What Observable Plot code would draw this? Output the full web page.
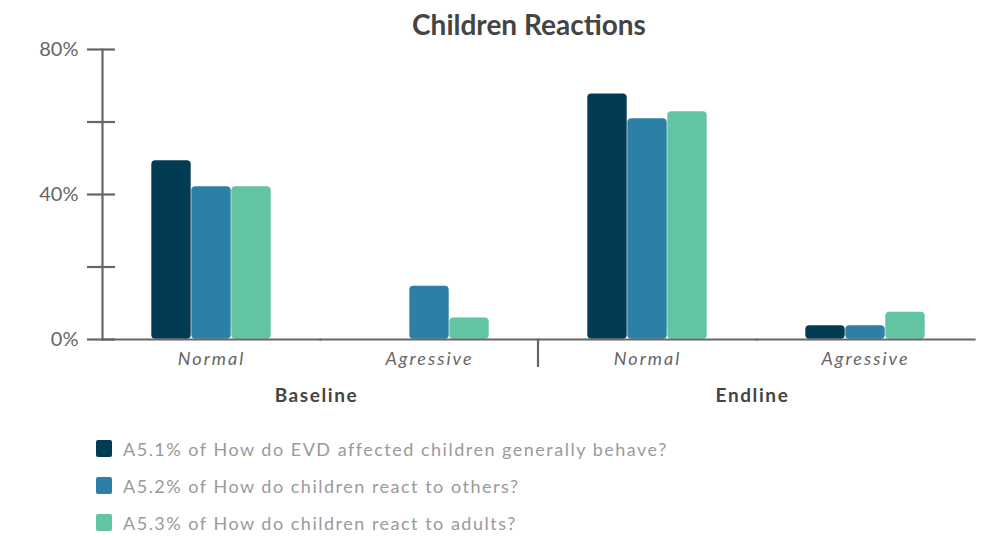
<!DOCTYPE html>
<html>
<head>
<meta charset="utf-8">
<script src="https://cdn.jsdelivr.net/npm/d3@7"></script>
<script src="https://cdn.jsdelivr.net/npm/@observablehq/plot@0.6"></script>
<style>
  body { margin: 0; background: #fff; font-family: Lato, "Noto Sans", sans-serif; }
  #title { width: 989px; box-sizing: border-box; padding-left: 69px; height: 45px; line-height: 49px;
           text-align: center; font-weight: 700; font-size: 28px; color: #444; }
  #chart svg { overflow: visible; }
  #chart g[aria-label="fx-axis tick label"] text { letter-spacing: 2px; }
  #chart g[aria-label="text"] text { letter-spacing: 1.6px; }
  #legend { padding-top: 10px; padding-left: 96px; }
  .row { display: flex; align-items: center; height: 37px; font-size: 18px; letter-spacing: 1.5px; color: #9a9a9a; }
  .sw { width: 16px; height: 17px; border-radius: 2px; margin-right: 11px; }
</style>
</head>
<body>
<div id="title">Children Reactions</div>
<div id="chart"></div>
<div id="legend"></div>
<script>
// Survey rounds and reaction categories
const phases = ["Baseline", "Endline"];
const categories = ["Normal", "Agressive"];
const seriesNames = [
  "A5.1% of How do EVD affected children generally behave?",
  "A5.2% of How do children react to others?",
  "A5.3% of How do children react to adults?"
];
const seriesColors = ["#033a54", "#2c80a7", "#62c4a0"];

// Values in %, ordered: Baseline Normal, Baseline Agressive, Endline Normal, Endline Agressive
const behaveValues = [49.4, 0, 67.8, 3.9];
const othersValues = [42.2, 14.8, 61.0, 3.9];
const adultsValues = [42.2, 6.0, 62.9, 7.6];

const yTicks = [0, 20, 40, 60, 80];
const yLabelTicks = [0, 40, 80];

const groups = phases.flatMap(p => categories.map(c => `${p}|${c}`));
const allValues = [behaveValues, othersValues, adultsValues];
const data = [];
groups.forEach((g, gi) => {
  seriesNames.forEach((s, si) => {
    data.push({ group: g, series: s, value: allValues[si][gi] });
  });
});

const axisColor = "#666";

const plot = Plot.plot({
  width: 989,
  height: 375,
  marginLeft: 100,
  marginRight: 14,
  marginTop: 4,
  marginBottom: 81,
  style: { fontFamily: "Lato, 'Noto Sans', sans-serif", fontSize: "17px", color: axisColor, background: "transparent" },
  fx: { domain: groups, paddingInner: 0, paddingOuter: 0, label: null, axis: null },
  x: { domain: seriesNames, paddingInner: 0, paddingOuter: 1.17, axis: null },
  y: { domain: [0, 80], label: null, axis: null },
  color: { domain: seriesNames, range: seriesColors },
  marks: [
    Plot.barY(data, { fx: "group", x: "series", y: "value", fill: "series", rx: 4, inset: 0.3 }),
    // baseline along the bottom of every facet
    Plot.frame({ anchor: "bottom", stroke: axisColor, strokeWidth: 2.2 }),
    // vertical y-axis line in the leftmost facet
    Plot.frame({ anchor: "left", stroke: axisColor, strokeWidth: 2.2, facetAnchor: "left" }),
    // tick marks crossing the axis line
    Plot.axisY({ ticks: yTicks, tickSize: 15, text: null, stroke: axisColor, strokeWidth: 2.2 }),
    Plot.axisY({ ticks: yTicks, tickSize: 13, dx: 13, text: null, stroke: axisColor, strokeWidth: 2.2 }),
    Plot.axisY({ ticks: yLabelTicks, tickSize: 0, tickPadding: 24, tickFormat: d => d + "%", fill: axisColor, fontSize: 20, label: null }),
    Plot.axisFx({ anchor: "bottom", tickSize: 0, tickPadding: 13, tickFormat: d => d.split("|")[1], fontStyle: "italic", fill: axisColor, fontSize: 18, label: null }),
    // phase labels centred under each pair of categories
    Plot.text(phases, {
      fx: d => `${d}|${categories[0]}`,
      text: d => d,
      frameAnchor: "bottom-right",
      textAnchor: "middle",
      dx: -4,
      dy: 62,
      fontWeight: 700,
      fontSize: 19,
      fill: "#444"
    })
  ]
});

document.getElementById("chart").appendChild(plot);

// divider between the two survey rounds
const fx = plot.scale("fx");
const y = plot.scale("y");
const xDiv = fx.apply(`${phases[1]}|${categories[0]}`);
const y0 = y.apply(0);
d3.select(plot).append("line")
  .attr("x1", xDiv).attr("x2", xDiv)
  .attr("y1", y0).attr("y2", y0 + 28)
  .attr("stroke", axisColor).attr("stroke-width", 2.2);

// legend
const legend = d3.select("#legend");
seriesNames.forEach((s, i) => {
  const row = legend.append("div").attr("class", "row");
  row.append("div").attr("class", "sw").style("background", seriesColors[i]);
  row.append("span").text(s);
});
</script>
</body>
</html>
